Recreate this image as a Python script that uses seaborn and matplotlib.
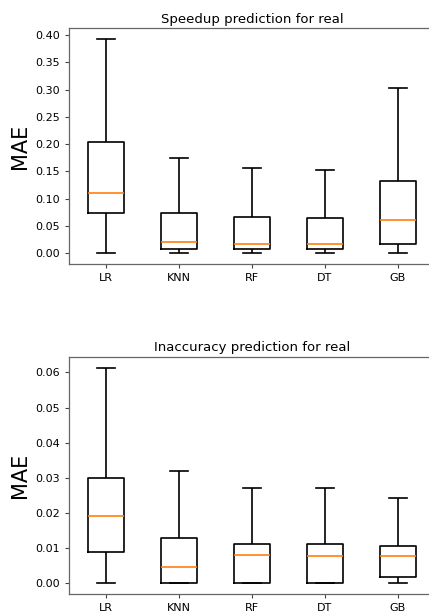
import numpy as np
import pandas as pd
import matplotlib
matplotlib.use("Agg")
import matplotlib.pyplot as plt
import seaborn as sns

models = ["LR", "KNN", "RF", "DT", "GB"]

# five-number summaries per model: [min, Q1, median, Q3, max]
speedup_LR = [0.0, 0.0737, 0.110, 0.203, 0.393]
speedup_KNN = [0.0, 0.0073, 0.0207, 0.0743, 0.1747]
speedup_RF = [0.0, 0.0073, 0.0177, 0.067, 0.157]
speedup_DT = [0.0, 0.0073, 0.0177, 0.065, 0.152]
speedup_GB = [0.0, 0.0177, 0.060, 0.132, 0.302]

inacc_LR = [0.0, 0.009, 0.019, 0.0299, 0.0613]
inacc_KNN = [0.0, 0.0, 0.00465, 0.0129, 0.032]
inacc_RF = [0.0, 0.0, 0.0079, 0.011, 0.0272]
inacc_DT = [0.0, 0.0, 0.0076, 0.011, 0.0271]
inacc_GB = [0.0, 0.0018, 0.0076, 0.0107, 0.0241]

titles = ["Speedup prediction for real", "Inaccuracy prediction for real"]
ylabel = "MAE"


def to_frame(series):
    rows = []
    for m, vals in zip(models, series):
        for v in vals:
            rows.append({"model": m, "MAE": v})
    return pd.DataFrame(rows)


df_speed = to_frame([speedup_LR, speedup_KNN, speedup_RF, speedup_DT, speedup_GB])
df_inacc = to_frame([inacc_LR, inacc_KNN, inacc_RF, inacc_DT, inacc_GB])

fig = plt.figure(figsize=(4.29, 6.11), dpi=100)
ax1 = fig.add_axes([0.1615, 0.568, 0.851, 0.386])
ax2 = fig.add_axes([0.1615, 0.0278, 0.851, 0.388])

for ax, df, title in [(ax1, df_speed, titles[0]), (ax2, df_inacc, titles[1])]:
    sns.boxplot(data=df, x="model", y="MAE", ax=ax, order=models,
                fill=False, color="black", width=0.5, whis=(0, 100),
                linewidth=1.2, showfliers=False,
                medianprops={"color": "#ff7f0e", "linewidth": 1.2})
    ax.set_title(title, fontsize=9.5, pad=4)
    ax.set_ylabel(ylabel, fontsize=15)
    ax.set_xlabel("")
    ax.tick_params(labelsize=8, length=3, width=0.8, color="#444444")
    for s in ax.spines.values():
        s.set_color("#666666")
        s.set_linewidth(0.9)
    ax.set_xlim(-0.5, 4.5)

ax1.set_yticks(np.arange(0, 0.41, 0.05))
ax1.set_yticklabels([f"{v:.2f}" for v in np.arange(0, 0.41, 0.05)])
ax2.set_yticks(np.arange(0, 0.061, 0.01))
ax2.set_yticklabels([f"{v:.2f}" for v in np.arange(0, 0.061, 0.01)])
ax1.set_ylim(-0.0197, 0.4127)
ax2.set_ylim(-0.0031, 0.0644)

fig.savefig("out.png", dpi=100)
